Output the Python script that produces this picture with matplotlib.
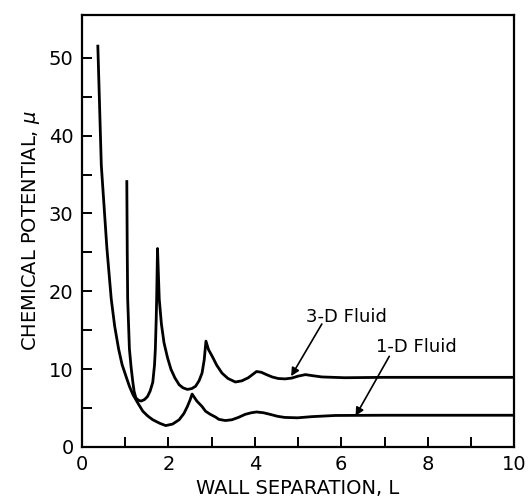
import matplotlib.pyplot as plt

# 1-D fluid curve
L_1d = [0.37, 0.45, 0.58, 0.68, 0.76, 0.85, 0.93, 1.02, 1.10, 1.18, 1.30, 1.41,
        1.52, 1.64, 1.80, 1.94, 2.10, 2.25, 2.36, 2.44, 2.50, 2.55, 2.66, 2.78,
        2.86, 2.97, 3.09, 3.17, 3.32, 3.47, 3.62, 3.78, 3.92, 4.04, 4.20, 4.35,
        4.52, 4.69, 4.99, 5.32, 5.86, 7.00, 8.00, 9.00, 10.0]
mu_1d = [51.5, 36.2, 25.5, 19.0, 15.5, 12.6, 10.6, 9.1, 7.8, 6.75, 5.6, 4.6,
         4.0, 3.5, 3.05, 2.75, 2.95, 3.5, 4.3, 5.2, 6.0, 6.8, 5.9, 5.2,
         4.6, 4.2, 3.85, 3.55, 3.4, 3.5, 3.8, 4.2, 4.4, 4.5, 4.4, 4.2,
         3.95, 3.8, 3.75, 3.9, 4.05, 4.08, 4.08, 4.08, 4.08]

# 3-D fluid curve
L_3d = [1.04, 1.05, 1.06, 1.10, 1.14, 1.18, 1.21, 1.25, 1.31, 1.37, 1.45, 1.52,
        1.58, 1.64, 1.68, 1.70, 1.72, 1.73, 1.75, 1.79, 1.84, 1.90, 1.98, 2.06,
        2.15, 2.25, 2.34, 2.44, 2.54, 2.63, 2.71, 2.78, 2.83, 2.87, 2.93, 3.01,
        3.12, 3.24, 3.38, 3.55, 3.70, 3.85, 4.04, 4.15, 4.27, 4.40, 4.54, 4.70,
        4.85, 5.00, 5.17, 5.35, 5.55, 6.08, 7.00, 8.00, 9.00, 10.0]
mu_3d = [34.1, 25.0, 19.0, 12.6, 10.2, 8.3, 7.1, 6.3, 6.0, 5.9, 6.1, 6.5,
         7.2, 8.3, 10.5, 12.6, 16.5, 19.0, 25.5, 19.0, 15.8, 13.4, 11.5, 10.0,
         8.9, 8.0, 7.6, 7.4, 7.5, 7.8, 8.5, 9.5, 11.2, 13.6, 12.5, 11.7,
         10.5, 9.5, 8.8, 8.35, 8.5, 8.9, 9.7, 9.6, 9.3, 9.0, 8.8, 8.75,
         8.85, 9.1, 9.3, 9.15, 9.0, 8.9, 8.95, 8.95, 8.95, 8.95]

x_ticks = [0, 2, 4, 6, 8, 10]
y_ticks = [0, 10, 20, 30, 40, 50]


def main():
    fig = plt.figure(figsize=(5.28, 5.0), dpi=100)
    ax = fig.add_axes([0.155, 0.106, 0.819, 0.864])

    ax.plot(L_1d, mu_1d, color='black', lw=2.0, solid_joinstyle='round')
    ax.plot(L_3d, mu_3d, color='black', lw=2.0, solid_joinstyle='round')

    ax.set_xlim(0, 10)
    ax.set_ylim(0, 55.5)
    ax.set_xticks(x_ticks)
    ax.set_yticks(y_ticks)
    ax.set_xticks(range(1, 10, 2), minor=True)
    ax.set_yticks(range(5, 55, 10), minor=True)
    ax.tick_params(which='both', direction='in', length=7, width=1.4,
                   top=False, right=False, labelsize=14, pad=6)
    for s in ax.spines.values():
        s.set_linewidth(1.6)

    ax.set_xlabel('WALL SEPARATION, L', fontsize=14, labelpad=3)
    ax.set_ylabel(r'CHEMICAL POTENTIAL, $\mu$', fontsize=14, labelpad=5)

    arrow = dict(arrowstyle='-|>', color='black', lw=1.2,
                 mutation_scale=12, shrinkA=0, shrinkB=0)
    ax.annotate('3-D Fluid', xy=(4.84, 9.1), xytext=(6.12, 16.7),
                fontsize=13, ha='center', va='center')
    ax.annotate('', xy=(4.84, 9.1), xytext=(5.55, 15.8), arrowprops=arrow)
    ax.annotate('1-D Fluid', xy=(6.33, 4.0), xytext=(7.73, 12.9),
                fontsize=13, ha='center', va='center')
    ax.annotate('', xy=(6.33, 4.0), xytext=(7.11, 11.65), arrowprops=arrow)

    fig.savefig('out.png', dpi=100)


if __name__ == "__main__":
    main()
